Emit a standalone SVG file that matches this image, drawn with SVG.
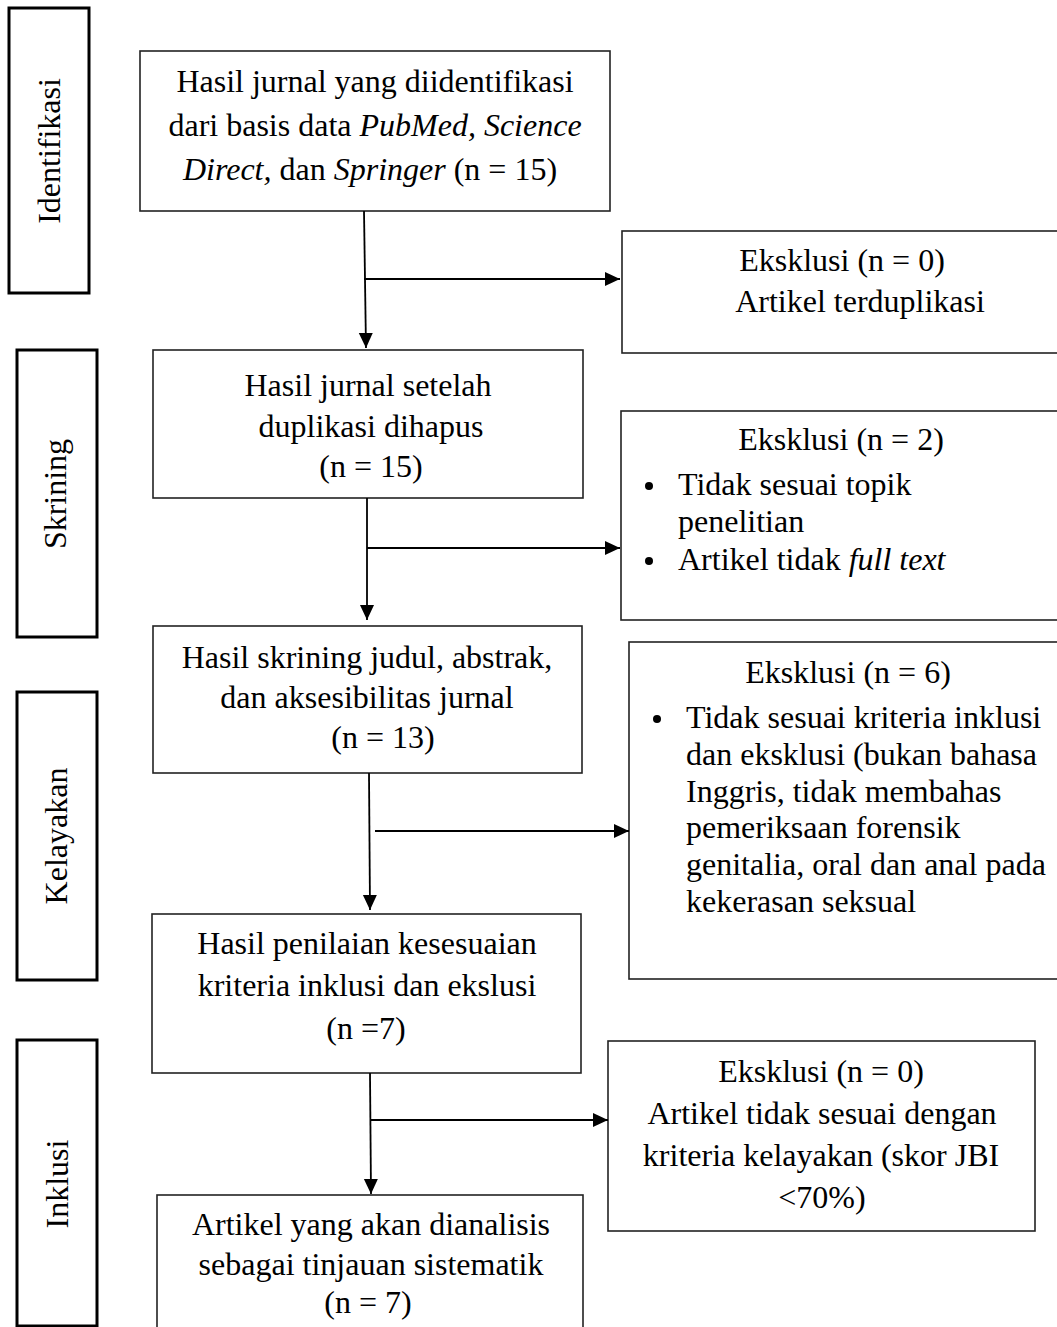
<svg xmlns="http://www.w3.org/2000/svg" width="1057" height="1327" viewBox="0 0 1057 1327">
<style>
  .box { fill: #ffffff; stroke: #222222; stroke-width: 1.6; }
  .side { fill: #ffffff; stroke: #000000; stroke-width: 3; }
  .t { font-family: "Liberation Serif", "Times New Roman", serif; font-size: 32px; fill: #000000; }
  .c { text-anchor: middle; }
  .i { font-style: italic; }
  .ln { stroke: #000000; stroke-width: 1.8; fill: none; }
  .dot { fill: #000000; }
</style>
<defs>
  <marker id="ah" markerUnits="userSpaceOnUse" markerWidth="16" markerHeight="16" refX="15" refY="7" orient="auto">
    <path d="M0,0 L15,7 L0,14 Z" fill="#000000"/>
  </marker>
</defs>
<rect width="1057" height="1327" fill="#ffffff"/>

<g id="stage-identifikasi">
  <rect class="side" x="9" y="8" width="80" height="285"/>
  <text class="t c" transform="translate(60,151) rotate(-90)">Identifikasi</text>
</g>
<g id="stage-skrining">
  <rect class="side" x="17" y="350" width="80" height="287"/>
  <text class="t c" transform="translate(66,494) rotate(-90)">Skrining</text>
</g>
<g id="stage-kelayakan">
  <rect class="side" x="17" y="692" width="80" height="288"/>
  <text class="t c" transform="translate(67,836) rotate(-90)">Kelayakan</text>
</g>
<g id="stage-inklusi">
  <rect class="side" x="17" y="1040" width="80" height="286"/>
  <text class="t c" transform="translate(68,1184) rotate(-90)">Inklusi</text>
</g>

<g id="box1">
  <rect class="box" x="140" y="51" width="470" height="160"/>
  <text class="t c" x="375" y="92">Hasil jurnal yang diidentifikasi</text>
  <text class="t c" x="375" y="136">dari basis data <tspan class="i">PubMed, Science</tspan></text>
  <text class="t c" x="370" y="180"><tspan class="i">Direct,</tspan> dan <tspan class="i">Springer</tspan> (n = 15)</text>
</g>
<g id="excl1">
  <rect class="box" x="622" y="231" width="450" height="122"/>
  <text class="t c" x="842" y="271">Eksklusi (n = 0)</text>
  <text class="t c" x="860" y="312">Artikel terduplikasi</text>
</g>
<g id="box2">
  <rect class="box" x="153" y="350" width="430" height="148"/>
  <text class="t c" x="368" y="396">Hasil jurnal setelah</text>
  <text class="t c" x="371" y="437">duplikasi dihapus</text>
  <text class="t c" x="371" y="477">(n = 15)</text>
</g>
<g id="excl2">
  <rect class="box" x="621" y="411" width="450" height="209"/>
  <text class="t c" x="841" y="450">Eksklusi (n = 2)</text>
  <circle class="dot" cx="649" cy="486" r="4"/>
  <text class="t" x="678" y="495">Tidak sesuai topik</text>
  <text class="t" x="678" y="532">penelitian</text>
  <circle class="dot" cx="649" cy="561" r="4"/>
  <text class="t" x="678" y="570">Artikel tidak <tspan class="i">full text</tspan></text>
</g>
<g id="box3">
  <rect class="box" x="153" y="626" width="429" height="147"/>
  <text class="t c" x="367" y="668">Hasil skrining judul, abstrak,</text>
  <text class="t c" x="367" y="708">dan aksesibilitas jurnal</text>
  <text class="t c" x="383" y="748">(n = 13)</text>
</g>
<g id="excl3">
  <rect class="box" x="629" y="642" width="450" height="337"/>
  <text class="t c" x="848" y="683">Eksklusi (n = 6)</text>
  <circle class="dot" cx="657" cy="719" r="4"/>
  <text class="t" x="686" y="728">Tidak sesuai kriteria inklusi</text>
  <text class="t" x="686" y="765">dan eksklusi (bukan bahasa</text>
  <text class="t" x="686" y="802">Inggris, tidak membahas</text>
  <text class="t" x="686" y="838">pemeriksaan forensik</text>
  <text class="t" x="686" y="875">genitalia, oral dan anal pada</text>
  <text class="t" x="686" y="912">kekerasan seksual</text>
</g>
<g id="box4">
  <rect class="box" x="152" y="914" width="429" height="159"/>
  <text class="t c" x="367" y="954">Hasil penilaian kesesuaian</text>
  <text class="t c" x="367" y="996">kriteria inklusi dan ekslusi</text>
  <text class="t c" x="366" y="1039">(n =7)</text>
</g>
<g id="excl4">
  <rect class="box" x="608" y="1041" width="427" height="190"/>
  <text class="t c" x="821" y="1082">Eksklusi (n = 0)</text>
  <text class="t c" x="822" y="1124">Artikel tidak sesuai dengan</text>
  <text class="t c" x="821" y="1166">kriteria kelayakan (skor JBI</text>
  <text class="t c" x="822" y="1208">&lt;70%)</text>
</g>
<g id="box5">
  <rect class="box" x="157" y="1195" width="426" height="145"/>
  <text class="t c" x="371" y="1235">Artikel yang akan dianalisis</text>
  <text class="t c" x="371" y="1275">sebagai tinjauan sistematik</text>
  <text class="t c" x="368" y="1313">(n = 7)</text>
</g>

<g id="connectors">
  <line class="ln" x1="364" y1="211" x2="366" y2="348" marker-end="url(#ah)"/>
  <line class="ln" x1="364" y1="279" x2="620" y2="279" marker-end="url(#ah)"/>
  <line class="ln" x1="367" y1="498" x2="367" y2="620" marker-end="url(#ah)"/>
  <line class="ln" x1="367" y1="548" x2="620" y2="548" marker-end="url(#ah)"/>
  <line class="ln" x1="369" y1="773" x2="370" y2="910" marker-end="url(#ah)"/>
  <line class="ln" x1="375" y1="831" x2="629" y2="831" marker-end="url(#ah)"/>
  <line class="ln" x1="370" y1="1073" x2="371" y2="1194" marker-end="url(#ah)"/>
  <line class="ln" x1="370" y1="1120" x2="608" y2="1120" marker-end="url(#ah)"/>
</g>
</svg>
